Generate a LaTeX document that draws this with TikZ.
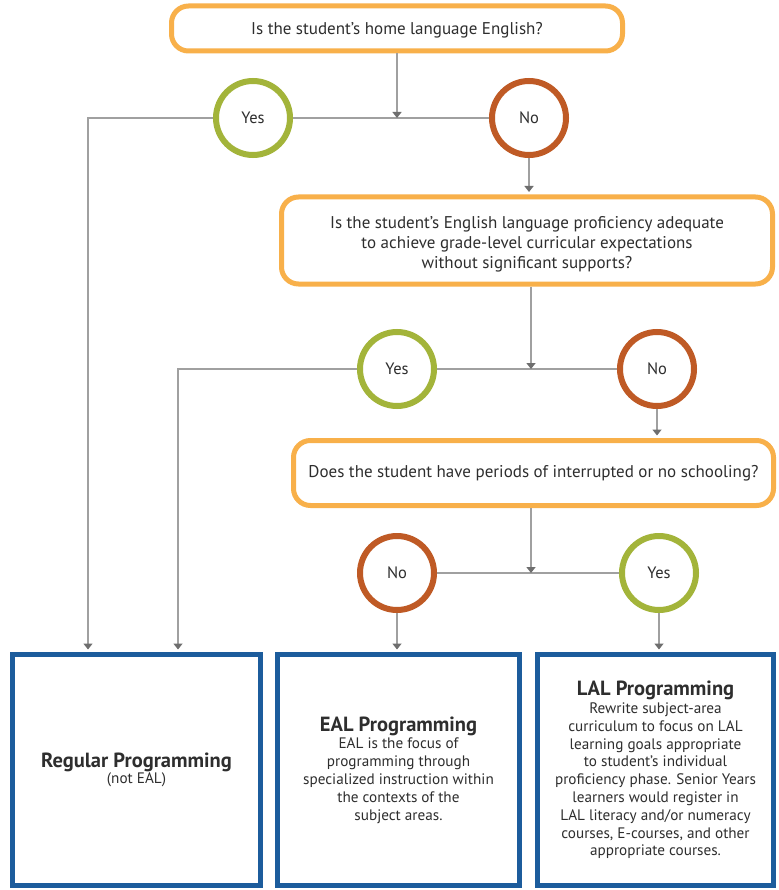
\documentclass[tikz,border=0pt]{standalone}
\usepackage{fontspec}
\setmainfont{PT Sans}
\usetikzlibrary{arrows.meta}
\definecolor{qorange}{HTML}{F8B04A}
\definecolor{ygreen}{HTML}{A3B43A}
\definecolor{nrust}{HTML}{BF5A25}
\definecolor{bblue}{HTML}{1C5C9C}
\definecolor{lgray}{HTML}{A0A0A0}
\definecolor{agray}{HTML}{6E6E6E}
\definecolor{tgray}{HTML}{2E2E2E}
\tikzset{
  question/.style={draw=qorange, line width=5pt, rounded corners=17pt, inner sep=0pt, align=center, text=tgray, font=\fontsize{17}{20}\selectfont},
  yescirc/.style={circle, draw=ygreen, line width=6pt, minimum size=74pt, inner sep=0pt, text=tgray, font=\fontsize{16.5}{17}\selectfont},
  nocirc/.style={circle, draw=nrust, line width=6pt, minimum size=74pt, inner sep=0pt, text=tgray, font=\fontsize{16.5}{17}\selectfont},
  result/.style={draw=bblue, line width=5pt, inner sep=0pt, align=center, text=tgray, font=\fontsize{15.2}{17.8}\selectfont},
  conn/.style={draw=lgray, line width=1.4pt},
  arr/.style={conn, -{Triangle[width=9pt,length=6pt,color=agray]}}
}
\newcommand{\rtitle}[1]{{\fontsize{20.5}{21}\selectfont\bfseries #1}}
\begin{document}
\begin{tikzpicture}[x=1pt,y=-1pt]
\useasboundingbox (0,0) rectangle (778,890);
\fill[white] (0,0) rectangle (778,890);

\node[question, minimum width=451pt, minimum height=45pt] (q1) at (397,28.5) {\rule{0pt}{15pt}Is the student’s home language English?};
\node[yescirc] (yes1) at (253,118) {Yes};
\node[nocirc] (no1) at (529,118) {No};

\node[question, minimum width=491pt, minimum height=87pt] (q2) at (527,240.5) {\rule{0pt}{19.5pt}Is the student’s English language proficiency adequate\\to achieve grade-level curricular expectations\\without significant supports?};
\node[yescirc] (yes2) at (397,369) {Yes};
\node[nocirc] (no2) at (657,369) {No};

\node[question, minimum width=480pt, minimum height=65pt] (q3) at (533.5,473) {Does the student have periods of interrupted or no schooling?};
\node[nocirc] (no3) at (397,573) {No};
\node[yescirc] (yes3) at (659,573) {Yes};

\node[result, minimum width=248pt, minimum height=231pt] (reg) at (136.5,770) {\rtitle{Regular Programming}\\[-2pt](not EAL)};
\node[result, minimum width=242pt, minimum height=231pt] (eal) at (398.5,770) {\rtitle{EAL Programming}\\EAL is the focus of\\programming through\\specialized instruction within\\the contexts of the\\subject areas.};
\node[result, minimum width=236pt, minimum height=231pt] (lal) at (655.5,770) {\rtitle{LAL Programming}\\Rewrite subject-area\\curriculum to focus on LAL\\learning goals appropriate\\to student’s individual\\proficiency phase. Senior Years\\learners would register in\\LAL literacy and/or numeracy\\courses, E-courses, and other\\appropriate courses.};

\coordinate (j1) at (397,118);
\coordinate (j2) at (531,369);
\coordinate (j3) at (531,573);
\coordinate (c1) at (88,118);
\coordinate (c2) at (178,369);

% level 1
\draw[conn] (yes1) -- (no1);
\draw[arr] (q1.south) -- (j1);
\draw[arr, shorten >=2.5pt] (yes1.west) -- (c1) -- (c1 |- reg.north);
\draw[arr, shorten >=2.5pt] (no1.south) -- (no1.south |- q2.north);

% level 2
\draw[conn] (yes2) -- (no2);
\draw[arr] (j2 |- q2.south) -- (j2);
\draw[arr, shorten >=2.5pt] (yes2.west) -- (c2) -- (c2 |- reg.north);
\draw[arr, shorten >=2.5pt] (no2.south) -- (no2.south |- q3.north);

% level 3
\draw[conn] (no3) -- (yes3);
\draw[arr] (j3 |- q3.south) -- (j3);
\draw[arr, shorten >=2.5pt] (no3.south) -- (no3.south |- eal.north);
\draw[arr, shorten >=2.5pt] (yes3.south) -- (yes3.south |- lal.north);
\end{tikzpicture}
\end{document}
